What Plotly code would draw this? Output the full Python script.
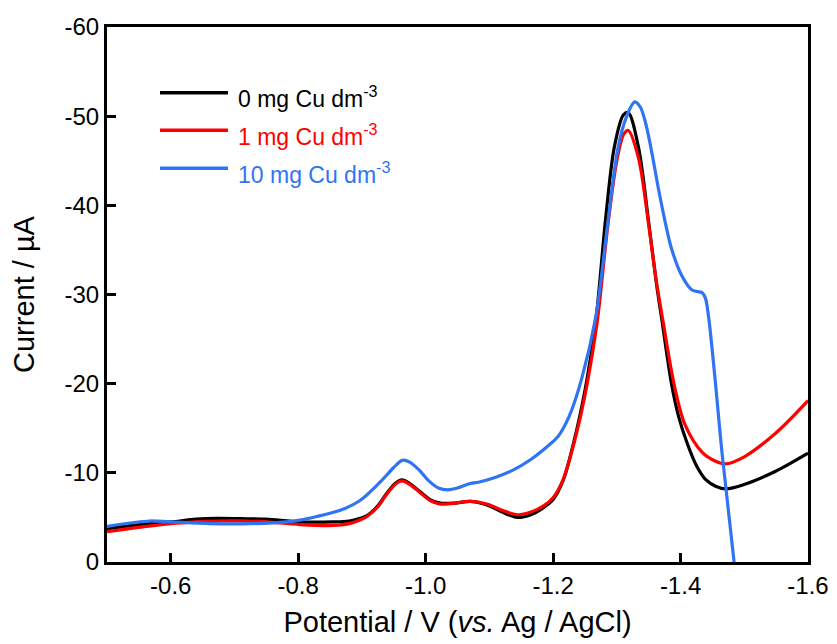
import plotly.graph_objects as go

# ---- data ----
x_black = [-0.5, -0.54, -0.6, -0.64, -0.672, -0.72, -0.75, -0.803, -0.855, -0.88, -0.897, -0.908,
           -0.925, -0.939, -0.952, -0.963, -0.975, -0.991, -1.007, -1.023, -1.045, -1.07, -1.096,
           -1.12, -1.144, -1.165, -1.185, -1.20, -1.216, -1.237, -1.253, -1.267, -1.283, -1.296,
           -1.31, -1.318, -1.334, -1.35, -1.362, -1.37, -1.386, -1.397, -1.41, -1.425, -1.44,
           -1.455, -1.471, -1.5, -1.55, -1.6]
y_black = [-3.7, -4.1, -4.5, -4.8, -4.9, -4.85, -4.8, -4.5, -4.5, -4.6, -4.9, -5.2,
           -6.3, -7.7, -8.8, -9.2, -8.8, -7.9, -7.0, -6.6, -6.6, -6.8, -6.4,
           -5.6, -5.0, -5.3, -6.1, -7.0, -9.2, -14.8, -20.4, -27.0, -38.9, -46.5,
           -50.1, -50.4, -46.5, -38.1, -31.3, -27.5, -19.9, -16.3, -13.4, -10.8, -9.2,
           -8.5, -8.2, -8.7, -10.2, -12.2]

x_red = [-0.5, -0.54, -0.6, -0.64, -0.672, -0.72, -0.75, -0.803, -0.855, -0.88, -0.897, -0.908,
         -0.925, -0.939, -0.952, -0.963, -0.975, -0.991, -1.007, -1.023, -1.045, -1.07, -1.096,
         -1.12, -1.144, -1.165, -1.185, -1.20, -1.216, -1.237, -1.253, -1.269, -1.286, -1.30,
         -1.311, -1.318, -1.334, -1.35, -1.362, -1.373, -1.39, -1.407, -1.434, -1.455, -1.47,
         -1.5, -1.55, -1.6]
y_red = [-3.4, -3.8, -4.3, -4.5, -4.6, -4.6, -4.5, -4.2, -4.1, -4.3, -4.7, -5.1,
         -6.2, -7.6, -8.7, -9.1, -8.7, -7.8, -6.9, -6.5, -6.6, -6.8, -6.5,
         -5.8, -5.3, -5.6, -6.3, -7.2, -9.3, -14.5, -19.8, -26.8, -37.8, -45.0,
         -48.0, -48.4, -45.3, -37.8, -31.5, -26.8, -19.9, -15.4, -12.3, -11.3, -11.0,
         -11.8, -14.5, -18.1]

x_blue = [-0.5, -0.54, -0.567, -0.6, -0.662, -0.725, -0.782, -0.803, -0.829, -0.866, -0.897,
          -0.929, -0.95, -0.963, -0.975, -0.99, -1.005, -1.02, -1.035, -1.05, -1.07, -1.086,
          -1.11, -1.137, -1.165, -1.19, -1.208, -1.225, -1.245, -1.267, -1.286, -1.302, -1.315,
          -1.328, -1.337, -1.346, -1.356, -1.366, -1.376, -1.386, -1.402, -1.418, -1.434,
          -1.439, -1.444, -1.455, -1.465, -1.484]
y_blue = [-4.0, -4.4, -4.6, -4.5, -4.3, -4.3, -4.5, -4.7, -5.1, -5.8, -6.9,
          -9.0, -10.6, -11.4, -11.2, -10.3, -9.1, -8.3, -8.1, -8.3, -8.8, -9.0,
          -9.5, -10.3, -11.5, -12.9, -14.1, -16.3, -20.6, -27.5, -38.1, -46.5, -49.9,
          -51.6, -51.0, -49.0, -45.5, -41.6, -38.1, -35.1, -32.1, -30.5, -30.2,
          -29.6, -27.5, -19.9, -12.3, 0.0]

series_names = ["0 mg Cu dm<sup>-3</sup>", "1 mg Cu dm<sup>-3</sup>", "10 mg Cu dm<sup>-3</sup>"]
series_colors = ["#000000", "#FF0000", "#2F74F2"]

x_tickvals = [-0.6, -0.8, -1.0, -1.2, -1.4, -1.6]
x_ticktext = ["-0.6", "-0.8", "-1.0", "-1.2", "-1.4", "-1.6"]
y_tickvals = [0, -10, -20, -30, -40, -50, -60]
y_ticktext = ["0", "-10", "-20", "-30", "-40", "-50", "-60"]

FONT = "Liberation Sans, Arial, sans-serif"

fig = go.Figure()
for xs, ys, name, col in zip([x_black, x_red, x_blue], [y_black, y_red, y_blue],
                             series_names, series_colors):
    fig.add_trace(go.Scatter(x=xs, y=ys, mode="lines", name=name,
                             line=dict(color=col, width=3.2, shape="spline", smoothing=0.9),
                             showlegend=False))

# legend drawn as paper-referenced samples and labels
leg_y = [0.877, 0.807, 0.736]
for yy, name, col in zip(leg_y, series_names, series_colors):
    fig.add_shape(type="line", xref="paper", yref="paper", x0=0.0756, x1=0.1726, y0=yy, y1=yy,
                  line=dict(color=col, width=3.5))
    fig.add_annotation(xref="paper", yref="paper", x=0.184, y=yy - 0.008, text=name,
                       showarrow=False, xanchor="left", yanchor="middle",
                       font=dict(family=FONT, size=23, color=col))

axis_common = dict(showline=True, linewidth=3, linecolor="black", mirror=True,
                   ticks="inside", ticklen=9, tickwidth=3, tickcolor="black",
                   showgrid=False, zeroline=False, automargin=False,
                   tickfont=dict(family=FONT, size=24, color="black"))

fig.update_xaxes(range=[-0.5, -1.6], tickvals=x_tickvals, ticktext=x_ticktext,
                 title=dict(text="Potential / V (<i>vs.</i> Ag / AgCl)",
                            font=dict(family=FONT, size=29, color="black"), standoff=14),
                 **axis_common)
fig.update_yaxes(range=[0, -60], tickvals=y_tickvals, ticktext=y_ticktext,
                 title=dict(text="Current / µA",
                            font=dict(family=FONT, size=29, color="black"), standoff=22),
                 **axis_common)

# body has an 8 px default margin; size/margins compensate so the plot area
# sits at x 107-808, y 27-562 in the window
fig.update_layout(width=829, height=636, plot_bgcolor="white", paper_bgcolor="white",
                  margin=dict(l=99, r=29, t=19, b=82), font=dict(family=FONT))

fig.write_html("out.html")
